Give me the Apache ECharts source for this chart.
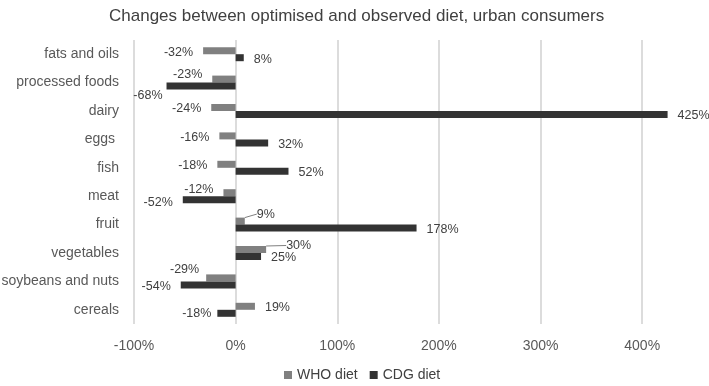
<!DOCTYPE html>
<html>
<head>
<meta charset="utf-8">
<script src="https://cdn.jsdelivr.net/npm/echarts@6/dist/echarts.min.js"></script>
<style>
  html, body { margin: 0; padding: 0; background: #ffffff; }
  #chart { width: 709px; height: 386px; }
</style>
</head>
<body>
<div id="chart"></div>
<script>
  // categories, top to bottom as in the picture
  var categories = ['fats and oils', 'processed foods', 'dairy', 'eggs ', 'fish', 'meat', 'fruit', 'vegetables', 'soybeans and nuts', 'cereals'];
  var whoDiet = [-32, -23, -24, -16, -18, -12, 9, 30, -29, 19];
  var cdgDiet = [8, -68, 425, 32, 52, -52, 178, 25, -54, -18];
  var xTicks = { min: -100, max: 450, interval: 100 };

  // hand nudges of the data labels (Excel moved some of them)
  var whoNudge = { 1: [0, -5], 5: [0, -3], 6: [2, -7], 7: [10, -4], 8: [3, -8] };
  var cdgNudge = { 1: [6, 9], 5: [0, 3], 9: [4, 0] };
  // labels pulled off with a leader line
  var whoLeader = { 6: true, 7: true };

  function buildData(values, nudge, leader) {
    return values.map(function (v, i) {
      var item = { value: v, label: { position: v < 0 ? 'left' : 'right' } };
      if (nudge) item.label.offset = nudge[i] || [0, 1.5];
      if (leader && leader[i]) item.labelLine = { show: true };
      return item;
    });
  }

  var font = 'Liberation Sans, Arial, sans-serif';
  var chart = echarts.init(document.getElementById('chart'));

  var labelBase = {
    show: true,
    distance: 10,
    fontSize: 12.5,
    color: '#404040',
    fontFamily: font,
    formatter: function (p) { return p.value + '%'; }
  };

  chart.setOption({
    animation: false,
    title: {
      text: 'Changes between optimised and observed diet, urban consumers',
      left: 104,
      top: 3,
      textStyle: { fontSize: 17, fontWeight: 'normal', color: '#404040', fontFamily: font }
    },
    legend: {
      top: 363,
      left: 279,
      icon: 'rect',
      itemWidth: 8,
      itemHeight: 8,
      itemGap: 12,
      textStyle: { fontSize: 14, color: '#404040', fontFamily: font },
      data: ['WHO diet', 'CDG diet']
    },
    grid: { left: 134, right: 16, top: 40, bottom: 62, outerBoundsMode: 'none' },
    xAxis: {
      type: 'value',
      min: xTicks.min,
      max: xTicks.max,
      interval: xTicks.interval,
      axisLine: { show: false },
      axisTick: { show: false },
      axisLabel: {
        showMaxLabel: false,
        margin: 15,
        fontSize: 14,
        color: '#595959',
        fontFamily: font,
        formatter: '{value}%'
      },
      splitLine: { show: true, showMaxLine: false, lineStyle: { color: '#d0d0d0', width: 1.5 } }
    },
    yAxis: {
      type: 'category',
      inverse: true,
      data: categories,
      axisLine: { show: false, onZero: false },
      axisTick: { show: false },
      axisLabel: { margin: 15, fontSize: 14, color: '#595959', fontFamily: font }
    },
    series: [
      {
        name: 'WHO diet',
        type: 'bar',
        barWidth: 7,
        barGap: '0%',
        itemStyle: { color: '#808080' },
        label: labelBase,
        labelLine: { show: false, lineStyle: { color: '#7f7f7f', width: 1 } },
        // offsets go through labelLayout here, so the leader lines follow them
        labelLayout: function (p) {
          var d = whoNudge[p.dataIndex] || [0, 1.5];
          return { dx: d[0], dy: d[1] };
        },
        data: buildData(whoDiet, null, whoLeader)
      },
      {
        name: 'CDG diet',
        type: 'bar',
        barWidth: 7,
        barGap: '0%',
        itemStyle: { color: '#333333' },
        label: labelBase,
        data: buildData(cdgDiet, cdgNudge)
      }
    ]
  });
</script>
</body>
</html>
